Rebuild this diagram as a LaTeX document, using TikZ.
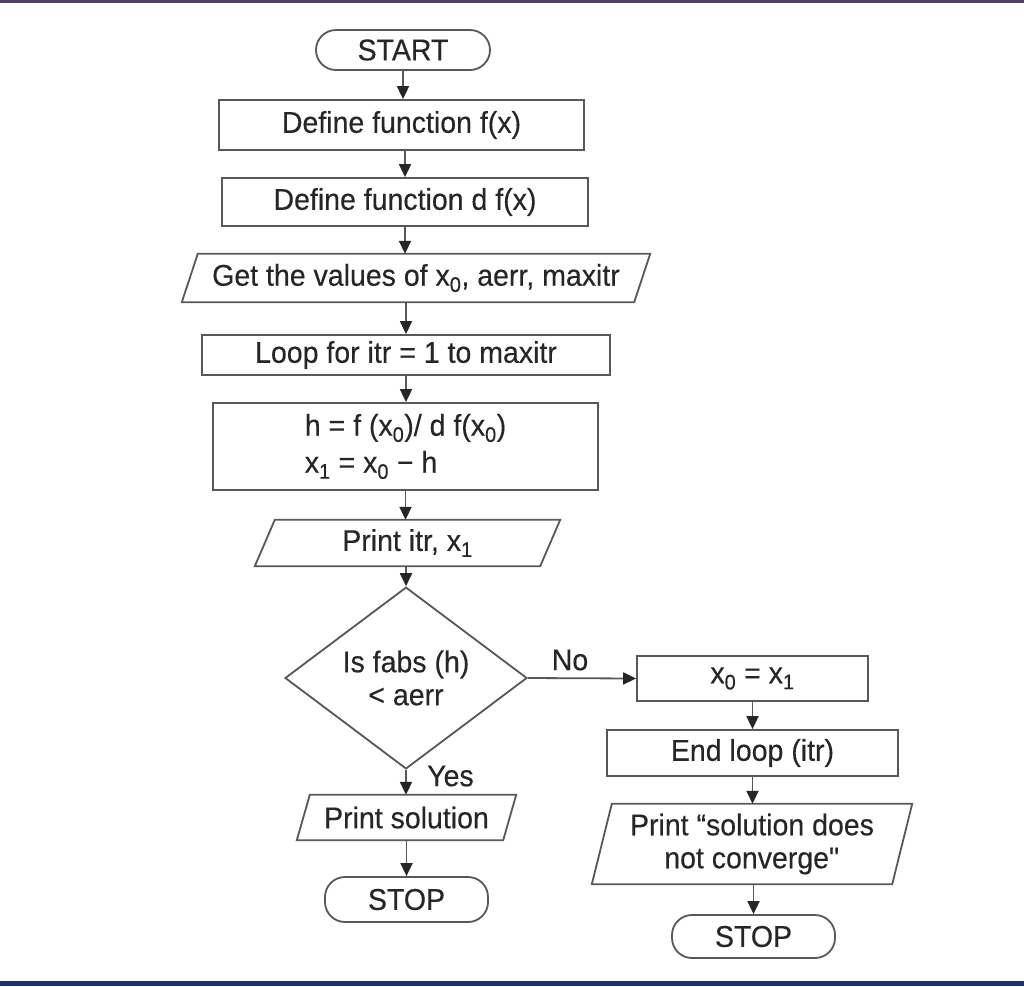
\documentclass[tikz,border=0pt]{standalone}
\usepackage{fontspec}
\setmainfont{Liberation Sans}[FakeStretch=0.95, FakeBold=0.3]
\usetikzlibrary{arrows.meta,shapes.geometric}
\definecolor{ln}{HTML}{585858}
\definecolor{tx}{HTML}{262626}
\definecolor{hd}{HTML}{262626}
\definecolor{topbar}{HTML}{4E3F60}
\definecolor{botbar}{HTML}{1D3272}
\tikzset{
  base/.style={inner sep=0pt, text=tx, font=\fontsize{30}{33}\selectfont, align=center},
  box/.style={base, rectangle, draw=ln, line width=1.8pt},
  term/.style={box, rounded corners=20pt},
  para/.style={base, rectangle},
  dec/.style={base, diamond, draw=ln, line width=1.8pt, minimum width=242pt, minimum height=160pt},
  arr/.style={draw=ln, line width=1.8pt, -{Triangle[length=13pt,width=12pt,color=hd]}},
  lbl/.style={text=tx, font=\fontsize{30}{33}\selectfont, inner sep=0pt}
}
\begin{document}
\begin{tikzpicture}[x=1pt,y=-1pt]
\useasboundingbox (0,0) rectangle (1024,986);
\fill[white] (0,0) rectangle (1024,986);
\fill[topbar] (0,0) rectangle (1024,2.5);
\fill[botbar] (0,981) rectangle (1024,986);

\node[term, minimum width=174pt, minimum height=40pt] (start) at (403,50) {START};
\node[box, minimum width=365pt, minimum height=50pt] (deff) at (401.5,125) {Define function f(x)};
\node[box, minimum width=366pt, minimum height=48pt] (defd) at (405,202) {Define function d f(x)};
\node[para, minimum width=468pt, minimum height=48pt] (get) at (416,278) {Get the values of x\textsubscript{0}, aerr, maxitr};
\node[box, minimum width=408pt, minimum height=40pt] (loop) at (406,355) {Loop for itr = 1 to maxitr};
\node[box, minimum width=385pt, minimum height=87pt, align=left, font=\fontsize{30}{37}\selectfont] (hbox) at (405.5,446.5) {h = f (x\textsubscript{0})/ d f(x\textsubscript{0})\\x\textsubscript{1} = x\textsubscript{0} − h};
\node[para, minimum width=305pt, minimum height=46pt] (prn) at (407.5,543) {Print itr, x\textsubscript{1}};
\node[dec] (test) at (406,678) {Is fabs (h)\\< aerr};
\node[box, minimum width=231pt, minimum height=45pt] (upd) at (752.5,678.5) {x\textsubscript{0} = x\textsubscript{1}};
\node[box, minimum width=291pt, minimum height=46pt] (endl) at (752.5,753) {End loop (itr)};
\node[para, minimum width=320pt, minimum height=80pt] (nc) at (752,844) {Print “solution does\\not converge\textquotedbl};
\node[para, minimum width=219pt, minimum height=45pt] (sol) at (406.5,817.5) {Print solution};
\node[term, minimum width=163pt, minimum height=45pt] (stopa) at (406.5,899.5) {STOP};
\node[term, minimum width=163pt, minimum height=43pt] (stopb) at (753.5,936.5) {STOP};

\foreach \n/\s in {get/16, prn/20, sol/13, nc/20}
  \draw[draw=ln, line width=1.8pt, line join=miter]
    ([xshift=\s pt]\n.north west) -- (\n.north east) -- ([xshift=-\s pt]\n.south east) -- (\n.south west) -- cycle;

\draw[arr] (start.south) -- (start.south |- deff.north);
\draw[arr] (deff.south -| defd.north) -- (defd.north);
\draw[arr] (defd.south) -- (defd.south |- get.north);
\draw[arr] (get.south -| loop.north) -- (loop.north);
\draw[arr] (loop.south) -- (loop.south |- hbox.north);
\draw[arr] (hbox.south) -- (hbox.south |- prn.north);
\draw[arr] (prn.south -| test.north) -- (test.north);
\draw[arr] (test.east) -- (upd.west);
\node[lbl] (no) at (570,660) {No};
\draw[arr] (upd.south) -- (upd.south |- endl.north);
\draw[arr] (endl.south) -- (endl.south |- nc.north);
\draw[arr] (nc.south -| stopb.north) -- (stopb.north);
\draw[arr] (test.south) -- (test.south |- sol.north);
\node[lbl, anchor=west] (yes) at (427,776) {Yes};
\draw[arr] (sol.south) -- (sol.south |- stopa.north);
\end{tikzpicture}
\end{document}
